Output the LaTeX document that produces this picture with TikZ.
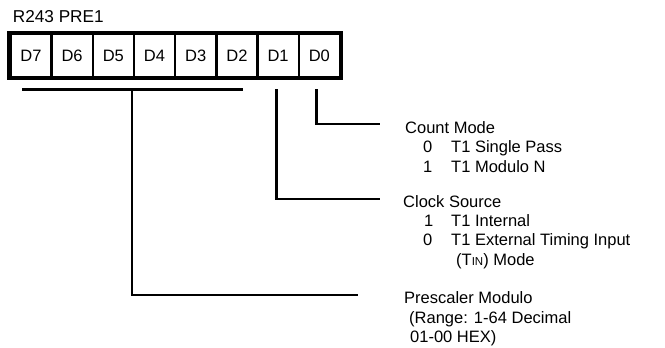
\documentclass[tikz,border=0pt]{standalone}
\usepackage{fontspec}
\setmainfont{Liberation Sans}
\begin{document}
\begin{tikzpicture}[x=1pt,y=-1pt, font=\fontsize{16.5}{19}\selectfont,
  lbl/.style={anchor=base west, inner sep=0pt},
  cell/.style={draw, line width=2.4pt, minimum width=41.2pt, minimum height=43pt, inner sep=0pt, anchor=center},
  frame/.style={line width=3.6pt},
  conn/.style={line width=2.6pt}]
\useasboundingbox (0,0) rectangle (665,348);
% register
\node[lbl, font=\fontsize{17.2}{19}\selectfont] (title) at (12.7,22.7) {R243 PRE1};
\foreach \i/\n in {0/7,1/6,2/5,3/4,4/3,5/2,6/1,7/0}
  \node[cell] (d\n) at ({10.3+41.2*(\i+0.5)},55.5) {D\n};
\draw[frame] (d7.north west) rectangle (d0.south east);
% texts
\node[lbl] (cm) at (405,133) {Count Mode};
\node[lbl] (cm0n) at (423,152.5) {0};
\node[lbl] (cm0t) at (451,152.5) {T1 Single Pass};
\node[lbl] (cm1n) at (423,172) {1};
\node[lbl] (cm1t) at (451,172) {T1 Modulo N};
\node[lbl] (cs) at (403,207) {Clock Source};
\node[lbl] (cs1n) at (424,226) {1};
\node[lbl] (cs1t) at (451,226) {T1 Internal};
\node[lbl] (cs0n) at (423,245) {0};
\node[lbl] (cs0t) at (451,245) {T1 External Timing Input};
\node[lbl] (cs2) at (456,265) {(T{\fontsize{11.5}{12}\selectfont IN}) Mode};
\node[lbl] (pm) at (404,303) {Prescaler Modulo};
\node[lbl] (pm1) at (409,323) {(Range: 1-64 Decimal};
\node[lbl] (pm2) at (410,342) {01-00 HEX)};
% connectors
\coordinate (t0) at (316.3,89);
\coordinate (e0) at (380,124);
\draw[conn] (t0) |- (e0);
\coordinate (t1) at (276.3,89);
\coordinate (e1) at (380,199);
\draw[conn] (t1) |- (e1);
\coordinate (bl) at (22,89.7);
\coordinate (br) at (243,89.7);
\draw[conn] (bl) -- (br);
\coordinate (t2) at (132,89.7);
\coordinate (e2) at (358,295);
\draw[conn] (t2) |- (e2);
\end{tikzpicture}
\end{document}
